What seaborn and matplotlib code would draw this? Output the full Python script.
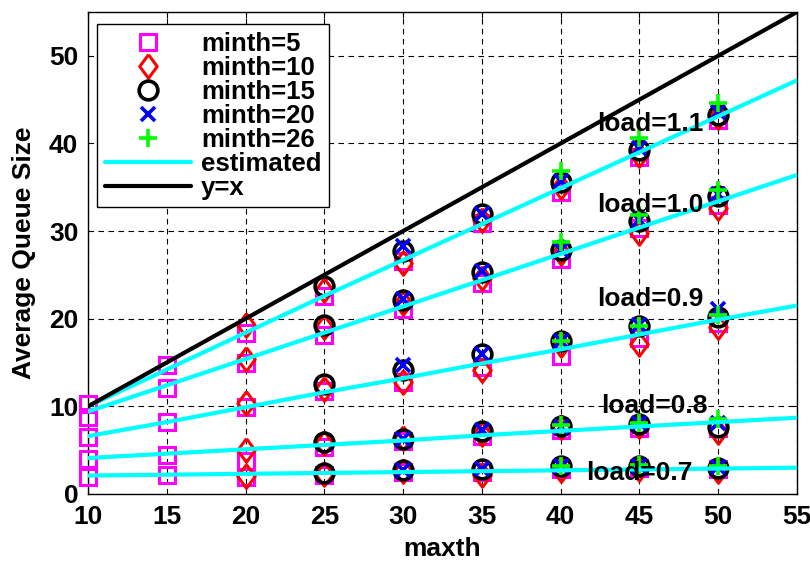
import numpy as np
import pandas as pd
import matplotlib
matplotlib.use("Agg")
import matplotlib.pyplot as plt
from matplotlib.lines import Line2D
import seaborn as sns

sns.set_style("white")
plt.rcParams['font.family'] = ['Liberation Sans', 'DejaVu Sans']
plt.rcParams['font.weight'] = 'bold'
plt.rcParams['text.color'] = 'black'
plt.rcParams['axes.labelcolor'] = 'black'

loads = [1.1, 1.0, 0.9, 0.8, 0.7]
load_labels = ["load=1.1", "load=1.0", "load=0.9", "load=0.8", "load=0.7"]

# measured average queue size, rows follow `loads`
maxth_m5 = [10, 15, 20, 25, 30, 35, 40, 45, 50]
q_m5 = [
    [10.3, 14.7, 18.4, 22.6, 26.6, 30.9, 34.5, 38.5, 42.7],
    [8.8, 12.1, 15.0, 18.1, 21.1, 24.1, 26.8, 30.3, 33.0],
    [6.5, 8.2, 9.9, 11.8, 12.8, 14.5, 15.8, 17.8, 19.5],
    [4.0, 4.5, 3.8, 5.4, 6.0, 6.6, 7.3, 7.5, 7.5],
    [1.95, 2.2, 1.9, 2.2, 2.5, 2.5, 2.9, 3.0, 2.9],
]
maxth_m10 = [20, 25, 30, 35, 40, 45, 50]
q_m10 = [
    [19.3, 23.3, 26.4, 31.3, 35.0, 38.7, 43.0],
    [15.4, 19.0, 21.8, 24.6, 27.5, 29.8, 32.6],
    [10.4, 12.0, 12.8, 14.2, 17.0, 17.1, 19.0],
    [5.0, 5.8, 6.4, 6.8, 7.6, 7.8, 7.1],
    [2.0, 2.3, 2.6, 2.2, 2.7, 2.9, 2.6],
]
maxth_m15 = [25, 30, 35, 40, 45, 50]
q_m15 = [
    [23.7, 27.7, 31.9, 35.6, 39.3, 43.3],
    [19.3, 22.1, 25.3, 27.8, 31.2, 34.0],
    [12.5, 14.1, 16.0, 17.5, 19.2, 20.2],
    [5.9, 6.3, 7.2, 7.7, 8.0, 7.6],
    [2.4, 2.7, 2.9, 3.2, 3.2, 3.0],
]
maxth_m20 = [30, 35, 40, 45, 50]
q_m20 = [
    [28.3, 32.0, 35.7, 39.5, 43.6],
    [22.2, 25.4, 27.8, 31.3, 34.2],
    [14.7, 16.0, 17.5, 19.3, 21.1],
    [6.3, 7.3, 7.6, 8.1, 8.1],
    [2.7, 2.8, 3.2, 3.2, 3.1],
]
maxth_m26 = [40, 45, 50]
q_m26 = [
    [36.8, 40.6, 44.6],
    [28.8, 31.8, 34.7],
    [17.5, 19.2, 20.4],
    [7.9, 8.1, 8.5],
    [3.2, 3.3, 3.2],
]

# estimated curves
maxth_est = [10, 15, 20, 25, 30, 35, 40, 45, 50, 55]
q_est = [
    [10.0, 14.2, 18.4, 22.6, 26.7, 30.8, 34.9, 39.0, 43.1, 47.2],
    [9.4, 12.4, 15.4, 18.4, 21.4, 24.4, 27.4, 30.4, 33.4, 36.4],
    [6.6, 8.2, 9.9, 11.6, 13.2, 14.9, 16.5, 18.2, 19.9, 21.5],
    [4.1, 4.6, 5.1, 5.6, 6.1, 6.7, 7.2, 7.7, 8.2, 8.7],
    [2.1, 2.2, 2.3, 2.4, 2.5, 2.6, 2.7, 2.8, 2.9, 3.0],
]
diag_x = [10, 55]

text_x = [42.3, 42.3, 42.3, 42.6, 41.6]
text_y = [42.2, 33.0, 22.2, 10.0, 2.4]


def long_df(xs, qs):
    rows = []
    for ld, qrow in zip(loads, qs):
        for xv, yv in zip(xs, qrow):
            rows.append({"maxth": xv, "q": yv, "load": ld})
    return pd.DataFrame(rows)


diamond = [(0, 1), (0.74, 0), (0, -1), (-0.74, 0), (0, 1)]

series = [
    ("minth=5", maxth_m5, q_m5, dict(marker="s", color="#FF00FF", ms=11.5, mew=2.2)),
    ("minth=10", maxth_m10, q_m10, dict(marker=diamond, color="#FF0000", ms=17, mew=2.2)),
    ("minth=15", maxth_m15, q_m15, dict(marker="o", color="#000000", ms=13.5, mew=2.6)),
    ("minth=20", maxth_m20, q_m20, dict(marker="x", color="#0000FF", ms=10, mew=2.6)),
    ("minth=26", maxth_m26, q_m26, dict(marker="+", color="#00FF00", ms=13, mew=2.6)),
]

fig = plt.figure(figsize=(8.1, 5.63), dpi=100)
ax = fig.add_axes([0.1086, 0.1226, 0.8753, 0.8561])

handles = []
for label, xs, qs, st in series:
    df = long_df(xs, qs)
    n_before = len(ax.lines)
    sns.lineplot(data=df, x="maxth", y="q", units="load", estimator=None,
                 ax=ax, color=st["color"], marker=st["marker"], linestyle="none",
                 markersize=st["ms"], markerfacecolor="none",
                 markeredgecolor=st["color"], markeredgewidth=st["mew"],
                 legend=False, sort=False, zorder=3)
    for ln in ax.lines[n_before:]:
        ln.set_clip_on(False)
    handles.append(Line2D([], [], linestyle="none", marker=st["marker"],
                          markersize=st["ms"], markerfacecolor="none",
                          markeredgecolor=st["color"], markeredgewidth=st["mew"],
                          label=label))

est_df = long_df(maxth_est, q_est)
sns.lineplot(data=est_df, x="maxth", y="q", units="load", estimator=None,
             ax=ax, color="#00FFFF", linewidth=3.0, legend=False, sort=False,
             zorder=4)
sns.lineplot(x=diag_x, y=diag_x, ax=ax, color="black", linewidth=3.0,
             legend=False, zorder=5)
handles.append(Line2D([], [], color="#00FFFF", linewidth=3.0, label="estimated"))
handles.append(Line2D([], [], color="black", linewidth=3.0, label="y=x"))

for t, tx, ty in zip(load_labels, text_x, text_y):
    ax.text(tx, ty, t, ha="left", va="center", fontsize=19, fontweight="bold",
            color="black", zorder=6)

ax.set_xlim(10, 55)
ax.set_ylim(0, 55)
ax.set_xticks(np.arange(10, 56, 5))
ax.set_yticks(np.arange(0, 51, 10))
ax.grid(True, color="black", linestyle=(0, (5, 4)), linewidth=0.8)
ax.set_axisbelow(True)
ax.tick_params(direction="in", length=4, width=0.8, top=True, right=True,
               labelsize=19, colors="black")
ax.tick_params(axis="x", pad=8)
ax.tick_params(axis="y", pad=7)
for lab in ax.get_xticklabels() + ax.get_yticklabels():
    lab.set_fontweight("bold")
for sp in ax.spines.values():
    sp.set_color("black")
    sp.set_linewidth(1.0)

ax.set_xlabel("maxth", fontsize=19, fontweight="bold", color="black", labelpad=6)
ax.set_ylabel("Average Queue Size", fontsize=19, fontweight="bold", color="black",
              labelpad=9)

leg = ax.legend(handles=handles, loc="upper left", bbox_to_anchor=(0.0127, 0.975),
                borderaxespad=0, handlelength=3.35, handletextpad=0.4,
                labelspacing=0.0, borderpad=0.3, frameon=True, fancybox=False,
                edgecolor="black", framealpha=1, prop={"weight": "bold", "size": 18.5})
leg.get_frame().set_linewidth(1.0)
leg.set_zorder(10)

fig.savefig("out.png", dpi=100)
